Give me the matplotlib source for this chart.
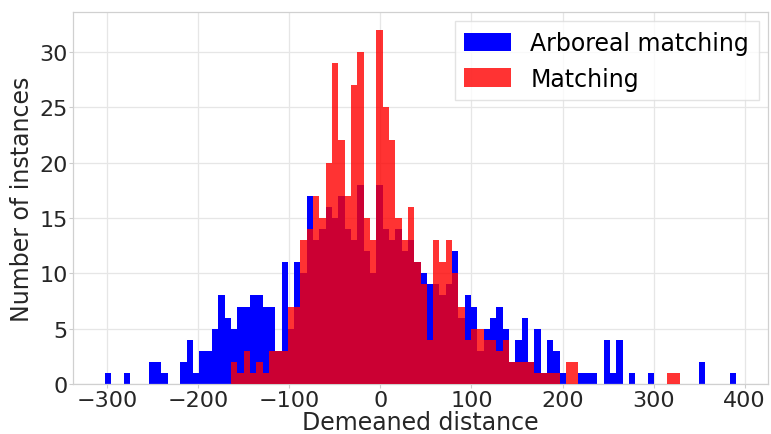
import numpy as np
import matplotlib
matplotlib.use("Agg")
import matplotlib.pyplot as plt

# Histogram bin range (shared bins, 100 bins)
bin_lo = -303
bin_hi = 391
n_bins = 100

arboreal_counts = [
    1, 0, 0, 1, 0, 0, 0, 2, 2, 1,
    0, 0, 2, 4, 1, 3, 3, 5, 8, 6,
    5, 7, 7, 8, 8, 7, 7, 3, 11, 5,
    11, 10, 17, 13, 14, 16, 15, 17, 14, 13,
    18, 12, 10, 18, 14, 13, 14, 12, 13, 11,
    10, 9, 9, 8, 9, 12, 6, 8, 7, 3,
    5, 6, 7, 5, 2, 4, 6, 2, 5, 1,
    4, 3, 1, 0, 0, 1, 1, 1, 0, 4,
    1, 4, 0, 1, 0, 0, 1, 0, 0, 0,
    0, 0, 0, 0, 2, 0, 0, 0, 0, 1,
]

matching_counts = [
    0, 0, 0, 0, 0, 0, 0, 0, 0, 0,
    0, 0, 0, 0, 0, 0, 0, 0, 0, 0,
    2, 1, 3, 1, 2, 1, 3, 3, 3, 7,
    7, 13, 14, 17, 15, 20, 29, 22, 17, 27,
    30, 15, 13, 32, 25, 22, 15, 13, 16, 11,
    9, 4, 13, 11, 13, 10, 7, 4, 5, 5,
    4, 4, 3, 4, 2, 2, 2, 2, 1, 1,
    1, 1, 0, 2, 2, 0, 0, 0, 0, 0,
    0, 0, 0, 0, 0, 0, 0, 0, 0, 1,
    1, 0, 0, 0, 0, 0, 0, 0, 0, 0,
]

labels = ["Arboreal matching", "Matching"]
x_label = "Demeaned distance"
y_label = "Number of instances"

edges = np.linspace(bin_lo, bin_hi, n_bins + 1)
centers = (edges[:-1] + edges[1:]) / 2

fig = plt.figure(figsize=(7.71, 4.35), dpi=100)
ax = fig.add_axes([73 / 771, 1 - 385 / 435, (768 - 73) / 771, (385 - 13) / 435])

ax.hist(centers, bins=edges, weights=arboreal_counts, color="blue", label=labels[0], zorder=2)
ax.hist(centers, bins=edges, weights=matching_counts, color="red", alpha=0.8, label=labels[1], zorder=3)

ax.set_xticks([-300, -200, -100, 0, 100, 200, 300, 400])
ax.set_yticks([0, 5, 10, 15, 20, 25, 30])
ax.grid(True, color="#e6e6e6", linewidth=0.9, zorder=0)
ax.set_axisbelow(True)
for s in ax.spines.values():
    s.set_color("#d0d0d0")
    s.set_linewidth(0.9)
ax.tick_params(axis="both", labelsize=16, colors="#cccccc", labelcolor="#262626", length=3, pad=1)
ax.set_xlabel(x_label, fontsize=17, color="#262626", labelpad=0)
ax.set_ylabel(y_label, fontsize=17, color="#262626", labelpad=4)

leg = ax.legend(loc="upper right", fontsize=17, frameon=True, fancybox=False,
                edgecolor="#dddddd", handlelength=2.0, handleheight=0.8, borderaxespad=0.4)

fig.savefig("out.png", dpi=100)
